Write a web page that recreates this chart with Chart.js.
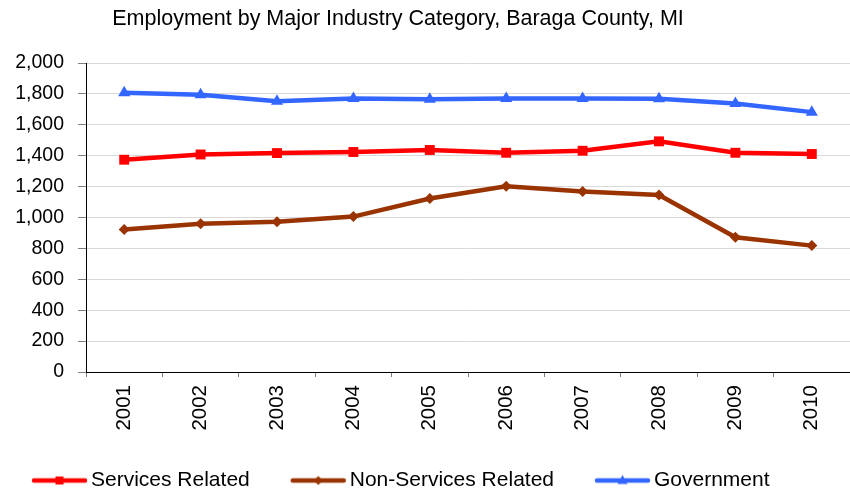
<!DOCTYPE html>
<html>
<head>
<meta charset="utf-8">
<script src="https://cdn.jsdelivr.net/npm/chart.js@4.4.1/dist/chart.umd.min.js"></script>
<style>
  html, body { margin: 0; padding: 0; background: #ffffff; overflow: hidden; }
  #wrap { width: 850px; height: 489px; }
</style>
</head>
<body>
<div id="wrap"><canvas id="c" width="850" height="489"></canvas></div>
<script>
// ---- data ----
const titleText = 'Employment by Major Industry Category, Baraga County, MI';
const categories = ['2001', '2002', '2003', '2004', '2005', '2006', '2007', '2008', '2009', '2010'];
const seriesNames = ['Services Related', 'Non-Services Related', 'Government'];
const servicesRelated = [1374, 1408, 1417, 1424, 1437, 1419, 1432, 1493, 1419, 1411];
const nonServicesRelated = [922, 959, 972, 1006, 1123, 1202, 1168, 1146, 872, 818];
const government = [1808, 1795, 1753, 1770, 1765, 1770, 1770, 1768, 1738, 1682];
const yTicks = [0, 200, 400, 600, 800, 1000, 1200, 1400, 1600, 1800, 2000];

// ---- styling ----
const FONT = '"Liberation Sans", Arial, Helvetica, sans-serif';
const RED = '#FF0000', BROWN = '#993300', BLUE = '#3366FF';

function legendSwatch(color, style) {
  const cv = document.createElement('canvas');
  cv.width = 70; cv.height = 14;
  const g = cv.getContext('2d');
  g.strokeStyle = color; g.fillStyle = color; g.lineWidth = 4.5; g.lineCap = 'round';
  g.beginPath(); g.moveTo(16, 7); g.lineTo(67, 7); g.stroke();
  g.beginPath();
  const cx = 41.5;
  if (style === 'rect') { g.rect(cx - 4, 7 - 4, 8, 8); }
  else if (style === 'diamond') { g.moveTo(cx, 2.5); g.lineTo(cx + 4.5, 7); g.lineTo(cx, 11.5); g.lineTo(cx - 4.5, 7); g.closePath(); }
  else { g.moveTo(cx, 1.5); g.lineTo(cx + 5, 10.5); g.lineTo(cx - 5, 10.5); g.closePath(); }
  g.fill();
  return cv;
}
const swatches = [legendSwatch(RED, 'rect'), legendSwatch(BROWN, 'diamond'), legendSwatch(BLUE, 'triangle')];

const titlePlugin = {
  id: 'customTitle',
  afterDraw(chart) {
    const ctx = chart.ctx;
    ctx.save();
    ctx.font = '21.5px ' + FONT;
    ctx.fillStyle = '#000';
    ctx.textAlign = 'center';
    ctx.textBaseline = 'middle';
    ctx.fillText(titleText, 398, 19);
    ctx.restore();
  }
};

new Chart(document.getElementById('c'), {
  type: 'line',
  data: {
    labels: categories,
    datasets: [
      { label: seriesNames[0], data: servicesRelated, borderColor: RED, backgroundColor: RED,
        borderWidth: 4.5, pointStyle: 'rect', pointRadius: 7, pointBorderWidth: 0, tension: 0 },
      { label: seriesNames[1], data: nonServicesRelated, borderColor: BROWN, backgroundColor: BROWN,
        borderWidth: 4.5, pointStyle: 'rectRot', pointRadius: 5.5, pointBorderWidth: 0, tension: 0 },
      { label: seriesNames[2], data: government, borderColor: BLUE, backgroundColor: BLUE,
        borderWidth: 4.5, pointStyle: 'triangle', pointRadius: 7, pointBorderWidth: 0, tension: 0 }
    ]
  },
  options: {
    responsive: false,
    animation: false,
    events: [],
    layout: { autoPadding: false, padding: { top: 63, left: -9, right: 0, bottom: -12 } },
    plugins: {
      title: { display: false },
      tooltip: { enabled: false },
      legend: {
        display: true,
        position: 'bottom',
        align: 'start',
        labels: {
          color: '#000',
          font: { family: FONT, size: 21 },
          usePointStyle: true,
          pointStyleWidth: 55,
          padding: 34.5,
          generateLabels(chart) {
            return chart.data.datasets.map((ds, i) => ({
              text: ds.label,
              fillStyle: ds.borderColor,
              strokeStyle: ds.borderColor,
              lineWidth: 0,
              pointStyle: swatches[i],
              hidden: false,
              datasetIndex: i,
              fontColor: '#000'
            }));
          }
        }
      }
    },
    scales: {
      x: {
        type: 'category',
        offset: true,
        afterFit(scale) { scale.height = 63.5; scale.paddingLeft = 0; scale.paddingRight = 0; },
        border: { display: true, color: '#000', width: 1 },
        grid: { display: true, drawOnChartArea: false, drawTicks: true, tickLength: 5, tickColor: '#808080', offset: true },
        ticks: { color: '#000', font: { family: FONT, size: 20.5 }, minRotation: 90, maxRotation: 90, padding: 8, autoSkip: false }
      },
      y: {
        min: 0, max: 2000,
        afterFit(scale) { scale.width = 95; },
        afterBuildTicks(scale) { scale.ticks = yTicks.map(v => ({ value: v })); },
        border: { display: true, color: '#000', width: 1 },
        grid: { color: '#d9d9d9', lineWidth: 1, tickLength: 8, tickColor: '#808080' },
        ticks: { color: '#000', font: { family: FONT, size: 19.5 }, padding: 14,
          callback: v => v.toLocaleString('en-US') }
      }
    }
  },
  plugins: [titlePlugin]
});
</script>
</body>
</html>
